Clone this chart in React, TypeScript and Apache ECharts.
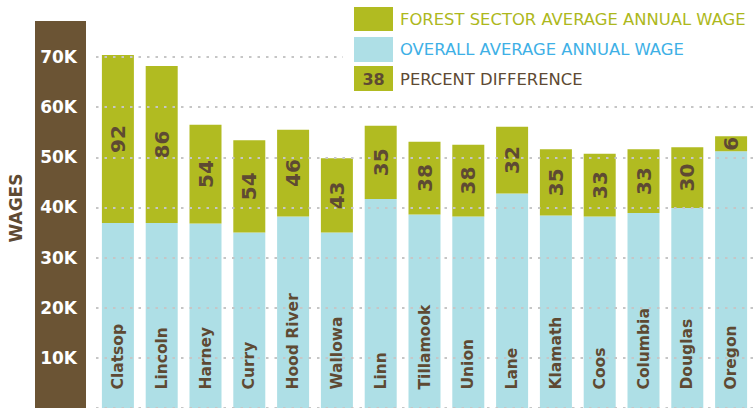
import React, { useEffect, useRef } from "react";
import * as echarts from "echarts";

const counties = ["Clatsop", "Lincoln", "Harney", "Curry", "Hood River", "Wallowa", "Linn", "Tillamook", "Union", "Lane", "Klamath", "Coos", "Columbia", "Douglas", "Oregon"];
const forestWage = [70400, 68200, 56500, 53400, 55500, 49800, 56300, 53100, 52500, 56100, 51600, 50700, 51600, 52000, 54200];
const overallWage = [36900, 36900, 36800, 35000, 38200, 35000, 41700, 38600, 38200, 42800, 38400, 38200, 38900, 39900, 51200];
const percentDiff = [92, 86, 54, 54, 46, 43, 35, 38, 38, 32, 35, 33, 33, 30, 6];
const yTicks = [10000, 20000, 30000, 40000, 50000, 60000, 70000];
const legendItems = ["FOREST SECTOR AVERAGE ANNUAL WAGE", "OVERALL AVERAGE ANNUAL WAGE", "PERCENT DIFFERENCE"];
const legendSample = "38";

const GREEN = "#b1bb21";
const BLUE = "#aedfe6";
const BROWN = "#6b5434";
const TEXT_BROWN = "#5e4a33";
const FONT = "'DejaVu Sans', sans-serif";

export default function App() {
  const ref = useRef<HTMLDivElement>(null);
  useEffect(() => {
    document.body.style.margin = "0";
    if (!ref.current) return;
    const chart = echarts.init(ref.current, undefined, { renderer: "svg" });
    const diff = forestWage.map((f, i) => f - overallWage[i]);
    const baseline = counties.map(() => 0);
    const midGreen = forestWage.map((f, i) => (f + overallWage[i]) / 2);
    chart.setOption({
      animation: false,
      grid: { left: 96, right: 1, top: 57, bottom: -2.2, containLabel: false },
      xAxis: {
        type: "category",
        data: counties,
        axisLine: { show: false },
        axisTick: { show: false },
        axisLabel: { show: false },
      },
      yAxis: {
        type: "value",
        min: 0,
        max: 70000,
        interval: 10000,
        z: 10,
        axisLine: { show: false },
        axisTick: { show: false },
        axisLabel: {
          margin: 19,
          color: "#ffffff",
          fontFamily: FONT,
          fontWeight: "bold",
          fontSize: 17,
          formatter: (v: number) => (v === 0 || !yTicks.includes(v) ? "" : v / 1000 + "K"),
        },
        splitLine: { lineStyle: { color: "#c6c6c6", width: 2, type: [2.5, 6] } },
      },
      series: [
        {
          name: "overall",
          type: "bar",
          stack: "w",
          barWidth: 32,
          clip: false,
          data: overallWage,
          itemStyle: { color: BLUE },
        },
        {
          name: "forest",
          type: "bar",
          stack: "w",
          barWidth: 32,
          clip: false,
          data: diff,
          itemStyle: { color: GREEN },
        },
        {
          name: "countyLabels",
          type: "scatter",
          z: 12,
          clip: false,
          silent: true,
          symbolSize: 1,
          itemStyle: { color: "rgba(0,0,0,0)", opacity: 1 },
          data: baseline,
          label: {
            show: true,
            position: "top",
            distance: 18,
            rotate: 90,
            align: "left",
            verticalAlign: "middle",
            formatter: (p: any) => counties[p.dataIndex],
            color: TEXT_BROWN,
            fontFamily: FONT,
            fontWeight: "bold",
            fontSize: 15.5,
          },
        },
        {
          name: "percentLabels",
          type: "scatter",
          z: 12,
          clip: false,
          silent: true,
          symbolSize: 1,
          itemStyle: { color: "rgba(0,0,0,0)", opacity: 1 },
          data: midGreen,
          label: {
            show: true,
            position: "inside",
            rotate: 90,
            align: "center",
            verticalAlign: "middle",
            formatter: (p: any) => String(percentDiff[p.dataIndex]),
            color: TEXT_BROWN,
            fontFamily: FONT,
            fontWeight: "bold",
            fontSize: 20,
          },
        },
      ],
      graphic: [
        { type: "rect", z: 1, shape: { x: 35, y: 21, width: 51, height: 400 }, style: { fill: BROWN } },
        {
          type: "text",
          z: 1,
          x: 15.5,
          y: 208,
          rotation: Math.PI / 2,
          style: {
            text: "WAGES",
            fill: TEXT_BROWN,
            font: `bold 17px ${FONT}`,
            align: "center",
            verticalAlign: "middle",
          },
        },
        { type: "rect", z: 20, shape: { x: 343, y: 0, width: 411, height: 96 }, style: { fill: "#ffffff" } },
        { type: "rect", z: 21, shape: { x: 354, y: 7, width: 39, height: 24 }, style: { fill: GREEN } },
        { type: "rect", z: 21, shape: { x: 354, y: 37, width: 39, height: 25 }, style: { fill: BLUE } },
        { type: "rect", z: 21, shape: { x: 354, y: 66, width: 39, height: 25 }, style: { fill: GREEN } },
        {
          type: "text", z: 22, x: 373.5, y: 79,
          style: { text: legendSample, fill: TEXT_BROWN, font: `bold 16px ${FONT}`, align: "center", verticalAlign: "middle" },
        },
        {
          type: "text", z: 22, x: 400, y: 19.5,
          style: { text: legendItems[0], fill: "#adb81c", font: `16.4px ${FONT}`, align: "left", verticalAlign: "middle" },
        },
        {
          type: "text", z: 22, x: 400, y: 49.5,
          style: { text: legendItems[1], fill: "#3eb0e6", font: `16.4px ${FONT}`, align: "left", verticalAlign: "middle" },
        },
        {
          type: "text", z: 22, x: 400, y: 79,
          style: { text: legendItems[2], fill: TEXT_BROWN, font: `16.4px ${FONT}`, align: "left", verticalAlign: "middle" },
        },
      ],
    });
    return () => chart.dispose();
  }, []);
  return <div ref={ref} style={{ width: 754, height: 408 }} />;
}
